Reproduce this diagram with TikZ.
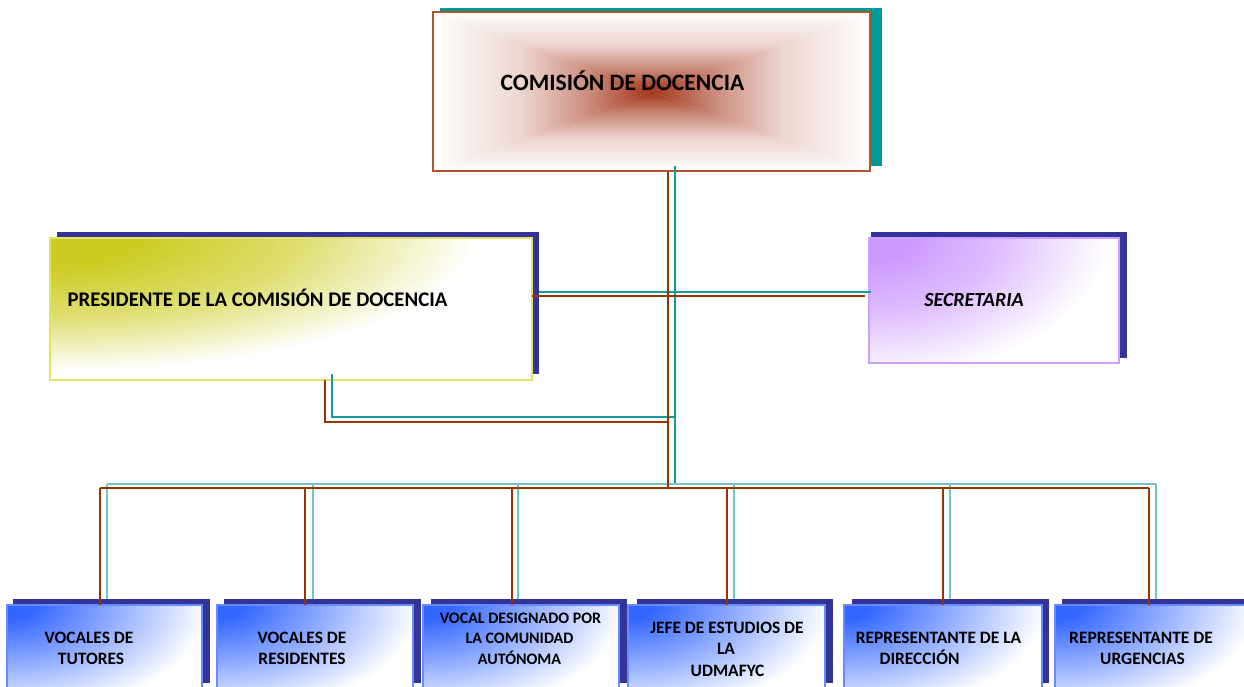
\documentclass[tikz,border=0pt]{standalone}
\usepackage{fontspec}
\setmainfont{Carlito}
\usetikzlibrary{calc,fit}
\definecolor{brn}{RGB}{153,51,0}
\definecolor{tealc}{RGB}{20,155,155}
\definecolor{tealbusc}{RGB}{110,200,200}
\definecolor{tealsh}{RGB}{0,153,153}
\definecolor{navy}{RGB}{51,51,153}
\definecolor{combrd}{RGB}{176,86,46}
\definecolor{comc}{RGB}{163,52,24}
\definecolor{presc}{RGB}{204,204,34}
\definecolor{presbrd}{RGB}{226,226,100}
\definecolor{secc}{RGB}{204,153,255}
\definecolor{secbrd}{RGB}{204,160,255}
\definecolor{bluec}{RGB}{51,102,255}
\definecolor{bluebrd}{RGB}{102,140,255}
\pgfdeclareradialshading{fadeY}{\pgfpoint{0bp}{0bp}}{color(0bp)=(presc); color(2bp)=(presc); color(5.5bp)=(presc!65!white); color(9.5bp)=(white); color(50bp)=(white)}
\pgfdeclareradialshading{fadeP}{\pgfpoint{0bp}{0bp}}{color(0bp)=(secc); color(1.5bp)=(secc); color(5bp)=(secc!65!white); color(9.5bp)=(white); color(50bp)=(white)}
\pgfdeclareradialshading{fadeB}{\pgfpoint{0bp}{0bp}}{color(0bp)=(bluec); color(1.2bp)=(bluec); color(5bp)=(bluec!55!white); color(9.5bp)=(white); color(50bp)=(white)}
\pgfdeclarehorizontalshading{hfadeL}{100bp}{color(0bp)=(white); color(25bp)=(white); color(45bp)=(comc!20!white); color(60bp)=(comc!55!white); color(75bp)=(comc); color(100bp)=(comc)}
\pgfdeclarehorizontalshading{hfadeR}{100bp}{color(0bp)=(comc); color(25bp)=(comc); color(40bp)=(comc!55!white); color(55bp)=(comc!20!white); color(75bp)=(white); color(100bp)=(white)}
\tikzset{
  brnline/.style={draw=brn, line width=1.2pt},
  tealline/.style={draw=tealc, line width=1.2pt},
  tealbus/.style={draw=tealbusc, line width=2pt},
  shadowbox/.style={fill=navy, draw=none, inner sep=0pt, outer sep=0pt},
  mainbox/.style={fill=white, inner sep=0pt, outer sep=0pt, line width=1.3pt},
  cornerfade/.style n args={3}{path picture={\shade[shading=#1] (path picture bounding box.north west) ellipse (#2 and #3);}},
  rectfade/.style={path picture={
    \coordinate (pc) at (path picture bounding box.center);
    \shade[shading=hfadeL, shading angle=-90] (path picture bounding box.north west) -- (path picture bounding box.north east) -- (pc) -- cycle;
    \shade[shading=hfadeL, shading angle=90] (path picture bounding box.south west) -- (path picture bounding box.south east) -- (pc) -- cycle;
    \shade[shading=hfadeL] (path picture bounding box.north west) -- (path picture bounding box.south west) -- (pc) -- cycle;
    \shade[shading=hfadeR] (path picture bounding box.north east) -- (path picture bounding box.south east) -- (pc) -- cycle;
  }},
  lbl/.style={font=\bfseries, anchor=base, inner sep=0pt, outer sep=0pt},
  bottomlbl/.style={lbl, font=\fontsize{17.4}{20}\selectfont\bfseries},
}
\begin{document}
\begin{tikzpicture}[x=1pt,y=-1pt]
\useasboundingbox (0,0) rectangle (1244,686);
\clip (0,0) rectangle (1244,686);
\fill[white] (0,0) rectangle (1244,686);

% top box
\node[shadowbox, fill=tealsh, fit={(440,8)(882,166)}] (comS) {};
\node[mainbox, draw=combrd, line width=1.1pt, rectfade, fit={(433,12)(870,171)}] (com) {};
\node[lbl, font=\fontsize{23.5}{26}\selectfont\bfseries] (comT) at (622.5,90.7) {COMISIÓN DE DOCENCIA};

% presidente
\node[shadowbox, fit={(57,232)(539,374)}] (presS) {};
\node[mainbox, draw=presbrd, cornerfade={fadeY}{1120pt}{350pt}, fit={(50,238)(532,380)}] (pres) {};
\node[lbl, font=\fontsize{20.8}{24}\selectfont\bfseries] (presT) at (257.5,306.7) {PRESIDENTE DE LA COMISIÓN DE DOCENCIA};

% secretaria
\node[shadowbox, fit={(871,232)(1127,358)}] (secS) {};
\node[mainbox, draw=secbrd, cornerfade={fadeP}{630pt}{370pt}, fit={(869,238)(1119,363)}] (sec) {};
\node[lbl, font=\fontsize{20}{24}\selectfont\bfseries\itshape] (secT) at (974,306) {SECRETARIA};

% bottom boxes
\foreach \n/\l/\r/\sl/\sr in {1/7/202/13/210, 2/217/413/224/421, 3/423/619/431/627, 4/628/825/637/833, 5/844/1042/852/1049, 6/1055/1252/1062/1260}{
  \node[shadowbox, fit={(\sl,599)(\sr,683)}] (s\n) {};
  \node[mainbox, draw=bluebrd, cornerfade={fadeB}{530pt}{290pt}, fit={(\l,605)(\r,700)}] (b\n) {};
}

% connectors (teal set: between shadows)
\coordinate (busT) at (675,484);
\coordinate (pT) at (332,417);
\draw[tealline] (comS.south -| busT) -- (busT);
\draw[tealline] (presS.east |- 0,292) -- (secS.west |- 0,292);
\draw[tealline] (presS.south -| pT) -- (pT) -- (pT -| busT);
\draw[tealbus] (107,484) -- (1156,484);
\foreach \n/\x in {1/107, 2/313, 3/518, 4/734, 5/950, 6/1156}{
  \draw[tealbus] (\x,484) -- (s\n.north -| \x,0);
}

% connectors (brown set: between main boxes)
\coordinate (busB) at (668,488);
\coordinate (pB) at (325,422);
\draw[brnline] (com.south -| busB) -- (busB);
\draw[brnline] (pres.east |- 0,296) -- (865,296);
\draw[brnline] (pres.south -| pB) -- (pB) -- (pB -| busB);
\draw[brnline] (100,488) -- (1149,488);
\foreach \n/\x in {1/100, 2/305, 3/512, 4/727, 5/943, 6/1149}{
  \draw[brnline] (\x,488) -- (b\n.north -| \x,0);
}

% bottom labels
\node[bottomlbl] (t1a) at (89,643) {VOCALES DE};
\node[bottomlbl] (t1b) at (91,664) {TUTORES};
\node[bottomlbl] (t2a) at (302,643) {VOCALES DE};
\node[bottomlbl] (t2b) at (302,664) {RESIDENTES};
\node[bottomlbl, font=\fontsize{16}{19}\selectfont\bfseries] (t3a) at (520.5,623) {VOCAL DESIGNADO POR};
\node[bottomlbl, font=\fontsize{16}{19}\selectfont\bfseries] (t3b) at (519.5,643) {LA COMUNIDAD};
\node[bottomlbl, font=\fontsize{16}{19}\selectfont\bfseries] (t3c) at (519.5,664) {AUTÓNOMA};
\node[bottomlbl] (t4a) at (727,633) {JEFE DE ESTUDIOS DE};
\node[bottomlbl] (t4b) at (726,654) {LA};
\node[bottomlbl] (t4c) at (727.5,676) {UDMAFYC};
\node[bottomlbl] (t5a) at (938.5,643) {REPRESENTANTE DE LA};
\node[bottomlbl] (t5b) at (919.5,664) {DIRECCIÓN};
\node[bottomlbl] (t6a) at (1141,643) {REPRESENTANTE DE};
\node[bottomlbl] (t6b) at (1142.5,664) {URGENCIAS};
\end{tikzpicture}
\end{document}
